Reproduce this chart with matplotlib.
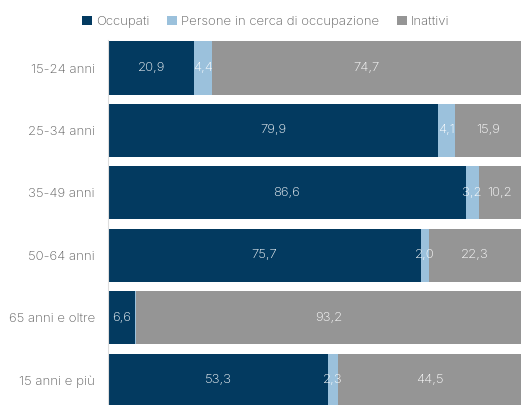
import matplotlib.pyplot as plt
import numpy as np

plt.rcParams['font.family'] = ['Inter', 'DejaVu Sans']

categories = ["15-24 anni", "25-34 anni", "35-49 anni", "50-64 anni",
              "65 anni e oltre", "15 anni e più"]
occupati = [20.9, 79.9, 86.6, 75.7, 6.6, 53.3]
in_cerca = [4.4, 4.1, 3.2, 2.0, 0.2, 2.3]
inattivi = [74.7, 15.9, 10.2, 22.3, 93.2, 44.5]
series_names = ["Occupati", "Persone in cerca di occupazione", "Inattivi"]
colors = ["#033a60", "#9bc1dc", "#959595"]

fig = plt.figure(figsize=(5.21, 4.05), dpi=100)
ax = fig.add_axes([108 / 521, 0.0, 1 - 108 / 521, 365 / 405])

y = np.arange(len(categories))
left = np.zeros(len(categories))
for vals, name, col in zip([occupati, in_cerca, inattivi], series_names, colors):
    ax.barh(y, vals, left=left, height=0.85, color=col, label=name)
    for yi, l, v in zip(y, left, vals):
        if v >= 1:
            ax.text(l + v / 2, yi, "{:.1f}".format(v).replace(".", ","),
                    ha="center", va="center", color="white", fontsize=9.5,
                    fontweight="light")
    left += np.array(vals)

ax.set_xlim(0, 100)
ax.set_ylim(5.40, -0.449)
ax.set_yticks(y)
ax.set_yticklabels(categories, fontsize=9.5, color="#5a5a5a", fontweight="light")
ax.tick_params(axis="y", length=0, pad=9.5)
ax.set_xticks([])
for s in ["top", "right", "bottom"]:
    ax.spines[s].set_visible(False)
ax.spines["left"].set_color("#dddddd")

fig.legend(loc="upper center", bbox_to_anchor=(0.51, 0.99), ncol=3, frameon=False,
           prop={"size": 9.5, "weight": "light"}, handlelength=0.7,
           handleheight=0.7, handletextpad=0.3, columnspacing=1.4,
           labelcolor="#5a5a5a")

fig.savefig("out.png", dpi=100)
